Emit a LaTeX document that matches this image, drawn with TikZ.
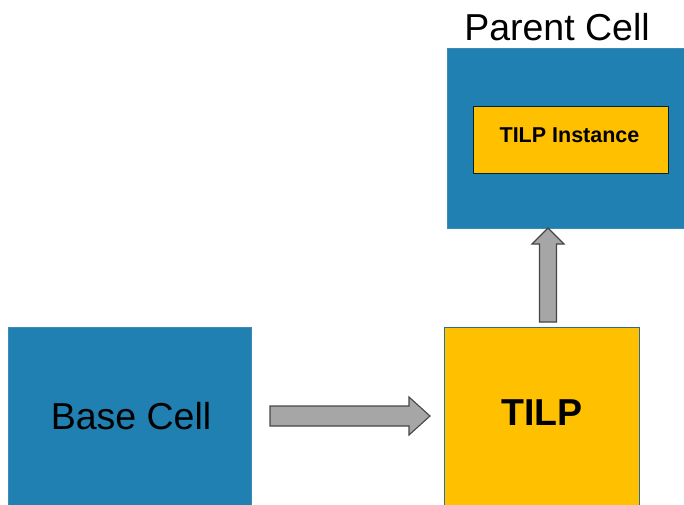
\documentclass[tikz,border=0pt]{standalone}
\usepackage{fontspec}
\setmainfont{Liberation Sans}
\usetikzlibrary{calc}
\definecolor{cellblue}{RGB}{31,128,177}
\definecolor{celledge}{RGB}{60,140,185}
\definecolor{tilpgold}{RGB}{255,192,0}
\definecolor{tilpedge}{RGB}{40,110,150}
\definecolor{arrowgray}{RGB}{166,166,166}
\definecolor{arrowedge}{RGB}{70,70,70}
\tikzset{
  cellbox/.style={draw=celledge, fill=cellblue, line width=0.8pt, anchor=south west, inner sep=0pt, outer sep=0pt},
  tilpbox/.style={draw=tilpedge, fill=tilpgold, line width=0.9pt, anchor=south west, inner sep=0pt, outer sep=0pt},
  instbox/.style={draw=black!75!cellblue, fill=tilpgold, line width=0.9pt, anchor=south west, inner sep=0pt, outer sep=0pt},
  blockarrow/.style={draw=arrowedge, fill=arrowgray, line width=1.1pt, line join=miter},
  bigtext/.style={font=\fontsize{37.5}{40}\selectfont, text=black},
}
\begin{document}
\begin{tikzpicture}[x=1pt,y=1pt]
  \useasboundingbox (0,0) rectangle (684,504);
  % boxes (the lower ones run past the bottom edge of the page)
  \node[cellbox, minimum width=243pt, minimum height=187pt] (base) at (8,-10) {};
  \node[bigtext] (baselbl) at (131,88) {Base Cell};
  \node[tilpbox, minimum width=195pt, minimum height=187pt] (tilp) at (444,-10) {};
  \node[font=\bfseries\fontsize{37.5}{40}\selectfont] (tilplbl) at (542,91) {TILP};
  \node[cellbox, minimum width=240pt, minimum height=180pt] (parent) at (447,276) {};
  \node[bigtext] (parentlbl) at (557,477) {Parent Cell};
  \node[instbox, minimum width=195pt, minimum height=67pt] (inst) at (473,331) {};
  \node[font=\bfseries\fontsize{21.5}{23}\selectfont] (instlbl) at ($(inst.center)+(-1,4)$) {TILP Instance};
  % block arrows
  \coordinate (h0) at ($(base.east)+(19,0)$);
  \coordinate (h0) at (h0 |- 0,88);
  \coordinate (h1) at ($(tilp.west |- h0)+(-14,0)$);
  \draw[blockarrow] ($(h0)+(0,10)$) -- ($(h1)+(-21,10)$) -- ($(h1)+(-21,19)$) -- (h1)
    -- ($(h1)+(-21,-19)$) -- ($(h1)+(-21,-10)$) -- ($(h0)+(0,-10)$) -- cycle;
  \coordinate (v0) at ($(tilp.north west)+(104,5)$);
  \coordinate (v1) at (parent.south west -| v0);
  \draw[blockarrow] ($(v0)+(-8.5,0)$) -- ($(v1)+(-8.5,-16)$) -- ($(v1)+(-16,-16)$) -- (v1)
    -- ($(v1)+(16,-16)$) -- ($(v1)+(8.5,-16)$) -- ($(v0)+(8.5,0)$) -- cycle;
\end{tikzpicture}
\end{document}
